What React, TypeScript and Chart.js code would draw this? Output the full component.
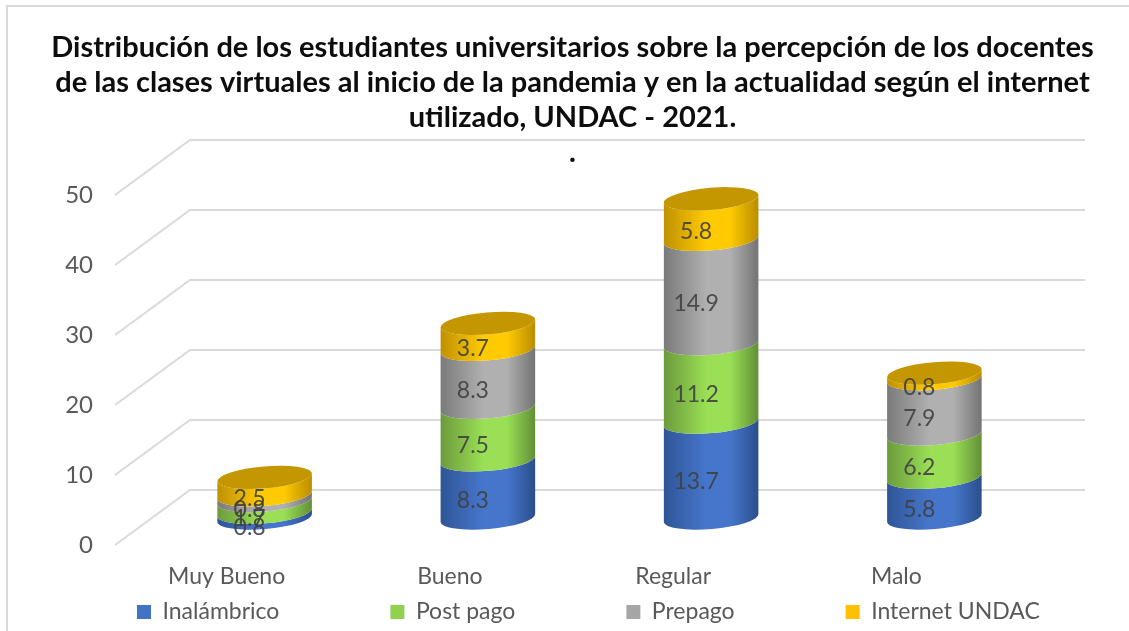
import React, { useEffect, useRef } from "react";
import { Chart, registerables } from "chart.js";

Chart.register(...registerables);

const categories = ["Muy Bueno", "Bueno", "Regular", "Malo"];
const inalambrico = [0.8, 8.3, 13.7, 5.8];
const postPago = [1.7, 7.5, 11.2, 6.2];
const prepago = [0.8, 8.3, 14.9, 7.9];
const internetUndac = [2.5, 3.7, 5.8, 0.8];
const titleLines = [
  "Distribución de los estudiantes universitarios sobre la percepción de los docentes",
  "de las clases virtuales al inicio de la pandemia y en la actualidad según el internet",
  "utilizado, UNDAC - 2021.",
  ".",
];

const FONT = "Lato";
const TEXT = "#595959";
const GRID = "#D9D9D9";
const LEGEND_PAD = 111;

// left-edge, highlight, right-edge shades of each cylinder
const shades = [
  ["#2F5597", "#4676CB", "#2B4E8C"],
  ["#6B9A3C", "#9ADF55", "#628F36"],
  ["#7A7A7A", "#B0B0B0", "#737373"],
  ["#BF9000", "#FFCB00", "#B98C00"],
];
const capColor = "#C49600";

const cylinderPlugin = {
  id: "cylinders",
  beforeLayout(chart: any) {
    const legend = chart.legend;
    if (legend && !legend.__wrapped) {
      const update = legend.update;
      legend.update = function (_w: number, h: number, m: any) {
        update.call(this, 1400, h, m);
        this.height = 35;
      };
      legend.__wrapped = true;
    }
  },
  afterLayout(chart: any) {
    const legend = chart.legend;
    legend.top = 612 - LEGEND_PAD - 11.5;
    legend.left = 137 - LEGEND_PAD;
    legend.right = 1400;
    chart.titleBlock.left += 49.5;
    chart.titleBlock.right += 49.5;
  },
  beforeDatasetsDraw(chart: any) {
    const { ctx, scales } = chart;
    const yScale = scales.y;
    ctx.save();
    ctx.strokeStyle = GRID;
    ctx.lineWidth = 2;
    yScale.ticks.forEach((t: any) => {
      const py = yScale.getPixelForValue(t.value);
      ctx.beginPath();
      ctx.moveTo(115, py + 27);
      ctx.lineTo(190, py - 28);
      ctx.lineTo(1085, py - 28);
      ctx.stroke();
    });
    ctx.restore();
  },
  beforeDatasetDraw() {
    return false;
  },
  afterDatasetsDraw(chart: any) {
    const { ctx } = chart;
    const n = chart.data.datasets.length;
    const rot = -0.085;
    const b = 11;
    chart.data.labels.forEach((_: string, i: number) => {
      for (let d = 0; d < n; d++) {
        const el = chart.getDatasetMeta(d).data[i];
        const cx = el.x;
        const a = el.width / 2;
        const grad = ctx.createLinearGradient(cx - a, 0, cx + a, 0);
        grad.addColorStop(0, shades[d][0]);
        grad.addColorStop(0.45, shades[d][1]);
        grad.addColorStop(0.7, shades[d][1]);
        grad.addColorStop(1, shades[d][2]);
        const dx = a * Math.cos(rot);
        const dy = a * Math.sin(rot);
        ctx.beginPath();
        ctx.moveTo(cx + dx, el.base + dy);
        ctx.ellipse(cx, el.base, a, b, rot, 0, Math.PI);
        ctx.lineTo(cx - dx, el.y - dy);
        ctx.ellipse(cx, el.y, a, b, rot, Math.PI, 0, true);
        ctx.closePath();
        ctx.fillStyle = grad;
        ctx.fill();
        if (d === n - 1) {
          ctx.beginPath();
          ctx.ellipse(cx, el.y, a, b, rot, 0, Math.PI * 2);
          ctx.fillStyle = capColor;
          ctx.fill();
        }
      }
    });
    ctx.save();
    ctx.font = `23px ${FONT}`;
    ctx.fillStyle = "#404040";
    ctx.globalAlpha = 0.9;
    ctx.textAlign = "center";
    ctx.textBaseline = "middle";
    chart.data.datasets.forEach((ds: any, d: number) => {
      chart.getDatasetMeta(d).data.forEach((el: any, i: number) => {
        ctx.fillText(ds.data[i].toFixed(1), el.x - 15, (el.y + el.base) / 2 + 12);
      });
    });
    ctx.restore();
  },
};

export default function App() {
  const ref = useRef<HTMLCanvasElement>(null);
  useEffect(() => {
    const chart = new Chart(ref.current as HTMLCanvasElement, {
      type: "bar",
      data: {
        labels: categories,
        datasets: [
          { label: "Inalámbrico", data: inalambrico, backgroundColor: "#4472C4" },
          { label: "Post pago", data: postPago, backgroundColor: "#92D050" },
          { label: "Prepago", data: prepago, backgroundColor: "#A5A5A5" },
          { label: "Internet UNDAC", data: internetUndac, backgroundColor: "#FFC000" },
        ],
      },
      options: {
        responsive: false,
        animation: false,
        events: [],
        layout: { padding: { left: 0, right: 83, top: 0, bottom: 0 } },
        datasets: { bar: { barPercentage: 0.425, categoryPercentage: 1 } },
        plugins: {
          tooltip: { enabled: false },
          title: {
            display: true,
            text: titleLines,
            color: "#0D0D0D",
            font: { family: FONT, size: 29, weight: "bold", lineHeight: 35 / 29 },
            padding: { top: 30.5, bottom: -2.5 },
          },
          legend: {
            position: "bottom",
            align: "start",
            labels: {
              color: TEXT,
              boxWidth: 14,
              boxHeight: 14,
              padding: LEGEND_PAD,
              font: { family: FONT, size: 23 },
            },
          },
        },
        scales: {
          x: {
            stacked: true,
            grid: { display: false },
            border: { display: false },
            ticks: {
              color: TEXT,
              font: { family: FONT, size: 23 },
              labelOffset: -38,
              padding: 37,
              maxRotation: 0,
              autoSkip: false,
            },
            afterFit: (s: any) => {
              s.height = 78;
            },
          },
          y: {
            stacked: true,
            min: 0,
            max: 50,
            grid: { display: false },
            border: { display: false },
            ticks: {
              stepSize: 10,
              color: TEXT,
              font: { family: FONT, size: 24 },
              labelOffset: 27,
              padding: 52,
            },
            afterFit: (s: any) => {
              s.width = 153;
            },
          },
        },
      } as any,
      plugins: [cylinderPlugin as any],
    });
    return () => chart.destroy();
  }, []);
  return (
    <div style={{ position: "absolute", left: 0, top: 0, width: 1129, height: 631, background: "#fff", overflow: "hidden" }}>
      <div style={{ position: "absolute", left: 6, top: 5, width: 1123, height: 626, borderLeft: "2px solid #D9D9D9", borderTop: "2px solid #D9D9D9" }} />
      <canvas ref={ref} width={1129} height={631} style={{ position: "absolute", left: 0, top: 0, display: "block" }} />
    </div>
  );
}
